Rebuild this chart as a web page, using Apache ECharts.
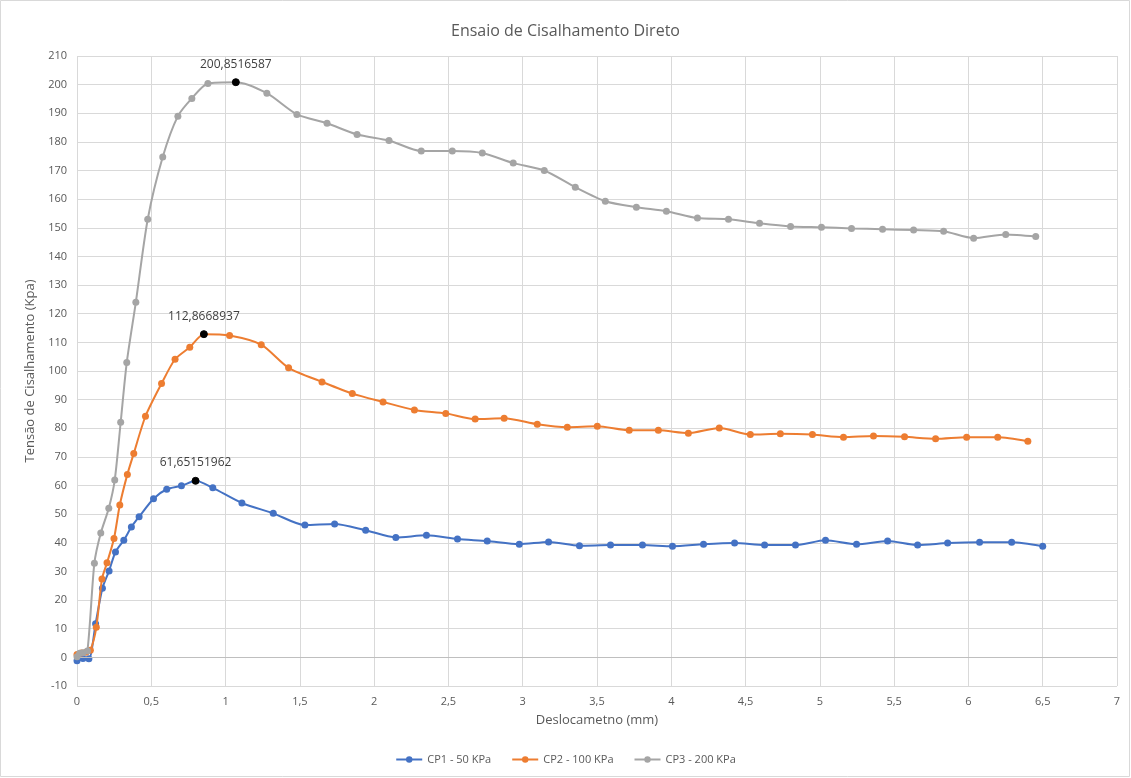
<!DOCTYPE html>
<html>
<head>
<meta charset="utf-8">
<script src="https://cdn.jsdelivr.net/npm/echarts@6/dist/echarts.min.js"></script>
<style>
html,body{margin:0;padding:0;background:#fff;}
#c{width:1131px;height:778px;}
</style>
</head>
<body>
<div id="c"></div>
<script>
var seriesNames = ['CP1 - 50 KPa', 'CP2 - 100 KPa', 'CP3 - 200 KPa'];
var cp1X = [0, 0.04, 0.08, 0.125, 0.171, 0.216, 0.259, 0.315, 0.366, 0.418, 0.515, 0.604, 0.703, 0.798, 0.914, 1.11, 1.321, 1.534, 1.734, 1.943, 2.146, 2.352, 2.561, 2.761, 2.977, 3.174, 3.382, 3.591, 3.806, 4.008, 4.217, 4.426, 4.628, 4.836, 5.038, 5.247, 5.456, 5.658, 5.86, 6.075, 6.291, 6.5];
var cp1Y = [-1.2, -0.4, -0.5, 11.7, 24.1, 30.2, 36.8, 40.9, 45.5, 49.1, 55.4, 58.7, 59.9, 61.65151962, 59.2, 53.9, 50.3, 46.2, 46.6, 44.4, 41.9, 42.6, 41.3, 40.6, 39.5, 40.3, 39.0, 39.2, 39.2, 38.8, 39.5, 39.9, 39.2, 39.2, 40.9, 39.5, 40.6, 39.2, 39.9, 40.2, 40.2, 38.8];
var cp2X = [0, 0.03, 0.06, 0.09, 0.13, 0.168, 0.202, 0.249, 0.288, 0.339, 0.382, 0.461, 0.569, 0.66, 0.759, 0.854, 1.027, 1.24, 1.424, 1.649, 1.853, 2.06, 2.271, 2.482, 2.68, 2.875, 3.098, 3.3, 3.502, 3.717, 3.913, 4.115, 4.323, 4.532, 4.734, 4.95, 5.159, 5.361, 5.57, 5.779, 5.988, 6.197, 6.4];
var cp2Y = [1.0, 1.5, 1.8, 2.5, 10.5, 27.4, 33.0, 41.5, 53.2, 63.9, 71.2, 84.2, 95.6, 104.1, 108.3, 112.8668937, 112.4, 109.2, 101.1, 96.2, 92.1, 89.2, 86.4, 85.2, 83.2, 83.5, 81.4, 80.4, 80.7, 79.3, 79.3, 78.3, 80.1, 77.8, 78.1, 77.8, 76.9, 77.3, 77.0, 76.3, 76.9, 76.9, 75.5];
var cp3X = [0, 0.018, 0.04, 0.07, 0.117, 0.16, 0.214, 0.254, 0.294, 0.335, 0.396, 0.476, 0.577, 0.679, 0.773, 0.881, 1.069, 1.278, 1.48, 1.683, 1.885, 2.1, 2.317, 2.526, 2.728, 2.936, 3.145, 3.354, 3.556, 3.765, 3.967, 4.176, 4.385, 4.594, 4.803, 5.011, 5.213, 5.422, 5.631, 5.833, 6.035, 6.251, 6.453];
var cp3Y = [0.2, 1.4, 1.6, 2.2, 32.9, 43.4, 52.1, 61.9, 82.1, 103.0, 124.0, 153.0, 174.7, 189.0, 195.2, 200.4, 200.8516587, 197.0, 189.6, 186.5, 182.6, 180.5, 176.8, 176.8, 176.1, 172.6, 170.0, 164.2, 159.3, 157.2, 155.8, 153.4, 153.0, 151.6, 150.5, 150.2, 149.8, 149.5, 149.2, 148.8, 146.4, 147.7, 147.0];
var colors = ['#4472C4', '#ED7D31', '#A5A5A5'];

var FONT = '"Open Sans", "Liberation Sans", sans-serif';
var TXT = '#595959';

function comma(v) { return String(v).replace('.', ','); }

function build(xs, ys) {
  var maxI = 0;
  for (var i = 1; i < ys.length; i++) if (ys[i] > ys[maxI]) maxI = i;
  return xs.map(function (x, i) {
    var d = { value: [x, ys[i]] };
    if (i === maxI) {
      d.itemStyle = { color: '#000000', borderColor: '#000000' };
      d.label = {
        show: true, position: 'top', distance: 8,
        formatter: function (p) { return comma(p.value[1]); },
        color: '#404040', fontFamily: FONT, fontSize: 12
      };
    }
    return d;
  });
}

var allX = [cp1X, cp2X, cp3X];
var allY = [cp1Y, cp2Y, cp3Y];

var series = seriesNames.map(function (n, k) {
  var s = {
    name: n, type: 'line', smooth: 0.25,
    data: build(allX[k], allY[k]),
    symbol: 'circle', symbolSize: 7,
    lineStyle: { width: 2, color: colors[k] },
    itemStyle: { color: colors[k] },
    emphasis: { disabled: true },
    z: 3 + k
  };
  if (k === 0) {
    s.markLine = {
      silent: true, symbol: 'none', label: { show: false },
      lineStyle: { color: '#BFBFBF', type: 'solid', width: 1 },
      data: [{ yAxis: 0 }]
    };
  }
  return s;
});

var chart = echarts.init(document.getElementById('c'), null, { renderer: 'canvas' });
chart.setOption({
  animation: false,
  color: colors,
  backgroundColor: '#ffffff',
  title: {
    text: 'Ensaio de Cisalhamento Direto',
    left: 'center', top: 18,
    textStyle: { color: TXT, fontFamily: FONT, fontSize: 16, fontWeight: 'normal' }
  },
  graphic: [{
    type: 'rect', shape: { x: 0.5, y: 0.5, width: 1129, height: 776 },
    style: { fill: 'none', stroke: '#D9D9D9', lineWidth: 1 }, silent: true, z: -1
  }],
  grid: { left: 77, right: 14, top: 56, bottom: 92 },
  legend: {
    bottom: 8, left: 'center',
    itemWidth: 26, itemHeight: 8, itemGap: 20,
    textStyle: { color: TXT, fontFamily: FONT, fontSize: 11 },
    data: seriesNames
  },
  xAxis: {
    type: 'value', min: 0, max: 7, interval: 0.5,
    name: 'Deslocametno (mm)', nameLocation: 'middle', nameGap: 28,
    nameTextStyle: { color: TXT, fontFamily: FONT, fontSize: 13 },
    axisLine: { show: false, onZero: false },
    axisTick: { show: false },
    axisLabel: { color: TXT, fontFamily: FONT, fontSize: 11, margin: 10, formatter: function (v) { return comma(v); } },
    splitLine: { show: true, lineStyle: { color: '#D9D9D9', width: 1 } }
  },
  yAxis: {
    type: 'value', min: -10, max: 210, interval: 10,
    name: 'Tensão de Cisalhamento (Kpa)', nameLocation: 'middle', nameGap: 36, nameRotate: 90,
    nameTextStyle: { color: TXT, fontFamily: FONT, fontSize: 13 },
    axisLine: { show: false },
    axisTick: { show: false },
    axisLabel: { color: TXT, fontFamily: FONT, fontSize: 11, margin: 10 },
    splitLine: { show: true, lineStyle: { color: '#D9D9D9', width: 1 } }
  },
  series: series
});
</script>
</body>
</html>
